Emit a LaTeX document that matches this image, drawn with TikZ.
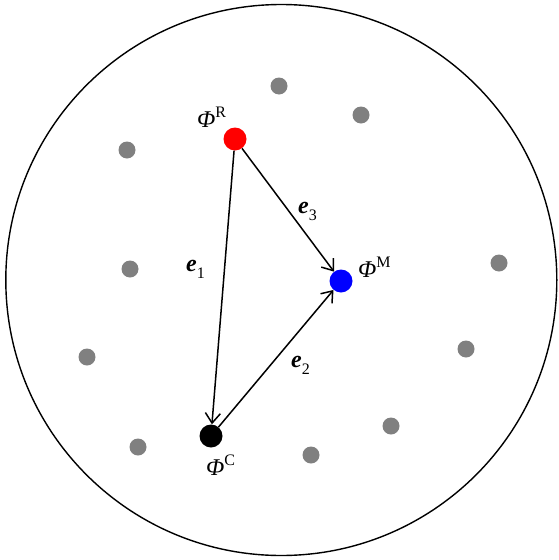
\documentclass[tikz,border=0pt]{standalone}
\usepackage{fontspec}
\setmainfont{Liberation Serif}
\usetikzlibrary{arrows.meta}
\newcommand\supr[1]{\raisebox{10pt}{\fontsize{16}{18}\selectfont\upshape #1}}
\newcommand\subr[1]{\raisebox{-7pt}{\fontsize{16}{18}\selectfont\upshape\mdseries #1}}
\begin{document}
\begin{tikzpicture}[x=1pt,y=-1pt,
  gdot/.style={circle,fill=gray,draw=none,minimum size=17pt,inner sep=0pt},
  bigdot/.style={circle,draw=none,minimum size=23pt,inner sep=0pt},
  vec/.style={line width=1.5pt,-{Straight Barb[length=10pt,width=15pt,line width=1.5pt]}},
  lbl/.style={font=\fontsize{24}{28}\selectfont,inner sep=0pt,anchor=base west}]
\useasboundingbox (0,0) rectangle (559,560);
\node[draw,circle,line width=1.4pt,minimum size=551pt,inner sep=0pt] (outer) at (281.3,280) {};
\foreach \n/\x/\y in {a/279/86,b/361/115,c/127/150,d/130/269,e/499/263,f/87/357,g/466/349,h/138/447,i/311/455,j/391/426}
  \node[gdot] (\n) at (\x,\y) {};
\node[bigdot,fill=red] (R) at (235,139) {};
\node[bigdot,fill=blue] (M) at (341,281) {};
\node[bigdot,fill=black] (C) at (211,436) {};
\draw[vec] (R) -- (C);
\draw[vec] (R) -- (M);
\draw[vec] (C) -- (M);
\node[lbl] (lR) at (197,127) {\itshape Φ\supr{R}};
\node[lbl] (lM) at (358,277) {\itshape Φ\supr{M}};
\node[lbl] (lC) at (206,475) {\itshape Φ\supr{C}};
\node[lbl] (e1) at (186,271.5) {\bfseries\itshape e\subr{1}};
\node[lbl] (e2) at (291,367) {\bfseries\itshape e\subr{2}};
\node[lbl] (e3) at (298,213) {\bfseries\itshape e\subr{3}};
\end{tikzpicture}
\end{document}
